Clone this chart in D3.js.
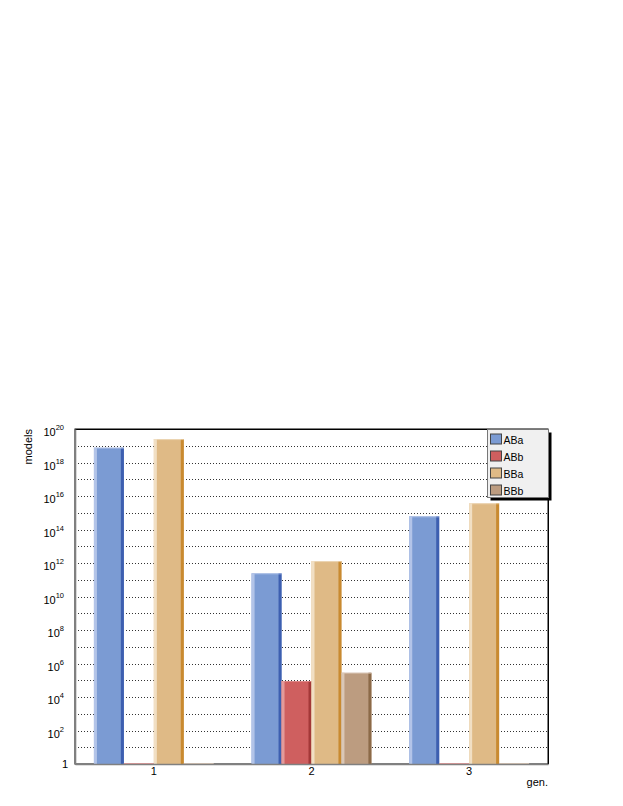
<!DOCTYPE html>
<html>
<head>
<meta charset="utf-8">
<title>models per gen.</title>
<script src="https://d3js.org/d3.v7.min.js"></script>
<style>
  body { margin: 0; background: #fff; }
  svg { font-family: "Liberation Sans", Arial, sans-serif; }
  .grid line { stroke: #333; stroke-dasharray: 1 2; }
</style>
</head>
<body>
<script>
// data
var gens = [1, 2, 3];
var series = ["ABa", "ABb", "BBa", "BBb"];
var ABa = [7.6e18, 2.4e11, 6.1e14];
var ABb = [0, 9e4, 0];
var BBa = [2.5e19, 1.3e12, 3.7e15];
var BBb = [0, 2.8e5, 0];
var yTicks = [1, 1e2, 1e4, 1e6, 1e8, 1e10, 1e12, 1e14, 1e16, 1e18, 1e20];

var values = { ABa: ABa, ABb: ABb, BBa: BBa, BBb: BBb };
var colors = {
  ABa: { main: "#7b9bd3", light: "#b3c4e8", dark: "#3d5fb0" },
  ABb: { main: "#cf5f5f", light: "#e49a9a", dark: "#a33838" },
  BBa: { main: "#dfba86", light: "#f1dfc4", dark: "#c98a30" },
  BBb: { main: "#bc9c80", light: "#dac7b6", dark: "#8c6a48" }
};

var width = 623, height = 806;
var m = { left: 75, right: 548, top: 429, bottom: 764 };

var svg = d3.select("body").append("svg")
  .attr("width", width)
  .attr("height", height);

var x = d3.scaleBand().domain(gens).range([m.left, m.right]).padding(0);
var bw = x.bandwidth();
var xs = d3.scaleBand().domain(series).range([0.12 * bw, 0.88 * bw]).padding(0);
var y = d3.scaleLog().domain([1, 1e20]).range([m.bottom, m.top]);

// plot background + frame
svg.append("rect")
  .attr("x", m.left).attr("y", m.top)
  .attr("width", m.right - m.left).attr("height", m.bottom - m.top)
  .attr("fill", "#fff").attr("stroke", "#000").attr("stroke-width", 1);

// grid every decade
var decades = d3.range(1, 20).map(function(e) { return Math.pow(10, e); });
svg.append("g").attr("class", "grid")
  .selectAll("line")
  .data(decades)
  .enter().append("line")
  .attr("x1", m.left).attr("x2", m.right)
  .attr("y1", function(d) { return Math.round(y(d)) + 0.5; })
  .attr("y2", function(d) { return Math.round(y(d)) + 0.5; });

// bars
var groups = svg.append("g").selectAll("g")
  .data(gens)
  .enter().append("g")
  .attr("transform", function(d) { return "translate(" + x(d) + ",0)"; });

series.forEach(function(s) {
  var c = colors[s];
  var w = xs.bandwidth();
  var edge = 3;
  groups.each(function(g, i) {
    var v = values[s][i];
    var sel = d3.select(this);
    var x0 = xs(s);
    if (!v) {
      sel.append("rect").attr("x", x0).attr("y", m.bottom - 1)
        .attr("width", w).attr("height", 1).attr("fill", c.light);
      return;
    }
    var top = y(v), h = m.bottom - top;
    sel.append("rect").attr("x", x0).attr("y", top).attr("width", w).attr("height", h).attr("fill", c.main);
    sel.append("rect").attr("x", x0).attr("y", top).attr("width", edge).attr("height", h).attr("fill", c.light);
    sel.append("rect").attr("x", x0 + w - edge).attr("y", top).attr("width", edge).attr("height", h).attr("fill", c.dark);
    sel.append("rect").attr("x", x0).attr("y", top).attr("width", w).attr("height", 1).attr("fill", c.light).attr("opacity", 0.7);
  });
});

// redraw top/right frame on top
svg.append("path")
  .attr("d", "M" + m.left + "," + (m.top + 0.5) + "H" + (m.right + 0.5) + "V" + m.bottom)
  .attr("fill", "none").attr("stroke", "#000");

// y axis
var yAxis = svg.append("g")
  .attr("transform", "translate(" + m.left + ",0)")
  .call(d3.axisLeft(y).tickValues(yTicks).tickSize(0).tickPadding(8).tickFormat(function() { return ""; }));
yAxis.select(".domain").attr("stroke", "#808080").attr("stroke-width", 1.6);
yAxis.selectAll(".tick text").each(function(d) {
  var t = d3.select(this).attr("font-size", 11).attr("fill", "#000")
    .attr("font-family", "Liberation Sans, Arial, sans-serif").attr("dy", "0.32em");
  var e = Math.round(Math.log10(d));
  if (e === 0) { t.text("1").attr("x", -7); return; }
  t.attr("x", -11).attr("dy", "0.6em");
  t.append("tspan").text("10");
  t.append("tspan").attr("font-size", 7.5).attr("dy", "-0.75em").text(e);
});

// x axis
var xAxis = svg.append("g")
  .attr("transform", "translate(0," + m.bottom + ")")
  .call(d3.axisBottom(x).tickSize(0).tickPadding(3));
xAxis.select(".domain").attr("stroke", "#808080").attr("stroke-width", 1.6);
xAxis.selectAll(".tick text").attr("font-size", 11).attr("fill", "#000")
  .attr("font-family", "Liberation Sans, Arial, sans-serif");

// axis titles
svg.append("text")
  .attr("transform", "translate(32," + m.top + ") rotate(-90)")
  .attr("text-anchor", "end")
  .attr("font-size", 11)
  .text("models");
svg.append("text")
  .attr("x", m.right).attr("y", 786)
  .attr("text-anchor", "end")
  .attr("font-size", 11)
  .text("gen.");

// legend
var lg = svg.append("g").attr("transform", "translate(487.5,429.5)");
lg.append("rect").attr("x", 3).attr("y", 3).attr("width", 61).attr("height", 68).attr("fill", "#000");
lg.append("rect").attr("width", 61).attr("height", 68).attr("fill", "#f0f0f0").attr("stroke", "#777");
var items = lg.selectAll(".item").data(series).enter().append("g")
  .attr("transform", function(d, i) { return "translate(3," + (4.5 + i * 17) + ")"; });
items.append("rect").attr("width", 11).attr("height", 10)
  .attr("fill", function(d) { return colors[d].main; })
  .attr("stroke", "#444");
items.append("text").attr("x", 13).attr("y", 9.5).attr("font-size", 10.5).text(function(d) { return d; });
</script>
</body>
</html>
